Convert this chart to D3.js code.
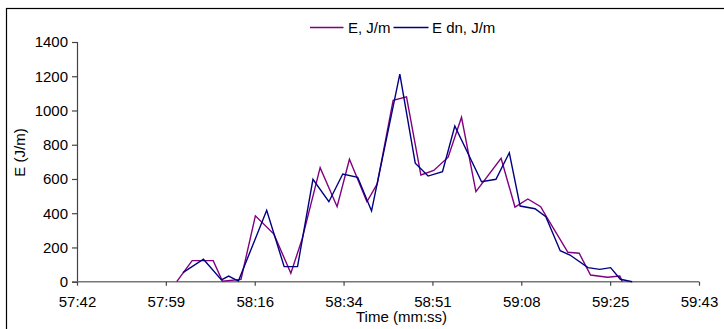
<!DOCTYPE html>
<html><head><meta charset="utf-8">
<script src="https://cdn.jsdelivr.net/npm/d3@7"></script>
<style>
html,body{margin:0;padding:0;background:#fff;}
svg{display:block;font-family:"Liberation Sans",Arial,sans-serif;}
</style></head>
<body>
<svg id="c" width="724" height="329"></svg>
<script>
// ---- data ----
const seriesNames = ["E, J/m", "E dn, J/m"];
const timesE = ["58:01.4","58:04.4","58:08.5","58:10.3","58:13.9","58:16.7","58:20.3","58:23.6","58:25.8","58:29.3","58:32.6","58:35.0","58:38.4","58:40.4","58:43.5","58:46.1","58:48.9","58:51.4","58:54.2","58:56.8","58:59.6","59:04.5","59:07.2","59:09.7","59:12.2","59:13.4","59:17.5","59:19.7","59:21.9","59:25.2","59:27.6","59:28.1"];
const valuesE = [0,123,123,3,13,385,278,49,250,666,438,715,467,571,1060,1080,623,650,727,960,526,721,436,483,438,376,172,166,39,26,33,0];
const timesEdn = ["58:02.6","58:06.6","58:10.1","58:11.5","58:13.4","58:18.9","58:22.3","58:24.9","58:27.9","58:31.0","58:33.7","58:36.6","58:39.3","58:44.8","58:47.8","58:50.3","58:53.1","58:55.5","59:00.7","59:03.5","59:06.1","59:08.2","59:11.1","59:13.2","59:16.0","59:17.9","59:21.4","59:23.7","59:25.8","59:27.7","59:30.0"];
const valuesEdn = [53,131,10,33,4,417,88,88,598,467,629,610,413,1213,692,617,642,909,584,598,753,442,426,380,181,156,82,72,82,14,0];
const xTickLabels = ["57:42","57:59","58:16","58:34","58:51","59:08","59:25","59:43"];
const yTicks = [0,200,400,600,800,1000,1200,1400];

// ---- helpers ----
const toSec = s => { const [m, r] = s.split(":"); return (+m - 57) * 60 + (+r); };
const xMin = toSec("57:42"), xMax = toSec("59:43");

const svg = d3.select("#c");
const x = d3.scaleLinear().domain([xMin, xMax]).range([77, 699]);
const y = d3.scaleLinear().domain([0, 1400]).range([281.7, 42]);

// outer border (cut off at right/bottom like the reference)
svg.append("rect").attr("x", 6.5).attr("y", 8.5).attr("width", 740).attr("height", 340)
  .attr("fill", "none").attr("stroke", "#000").attr("stroke-width", 1.2);

// y axis
const yAxis = d3.axisLeft(y).tickValues(yTicks).tickSize(5).tickPadding(4).tickFormat(d3.format("d"));
const gy = svg.append("g").attr("transform", "translate(77,0)").call(yAxis);
gy.select(".domain").attr("stroke", "#444").attr("stroke-width", 1.2);
gy.selectAll(".tick line").attr("stroke", "#444").attr("stroke-width", 1.2);
gy.selectAll(".tick text").attr("font-size", 15).attr("fill", "#000")
  .attr("font-family", "Liberation Sans, Arial, sans-serif");

// x axis
const xTickVals = xTickLabels.map((d, i) => xMin + i * (xMax - xMin) / (xTickLabels.length - 1));
const xAxis = d3.axisBottom(x).tickValues(xTickVals).tickSize(4).tickPadding(11)
  .tickFormat((d, i) => xTickLabels[i]);
const gx = svg.append("g").attr("transform", "translate(0,281.7)").call(xAxis);
gx.select(".domain").attr("stroke", "#777").attr("stroke-width", 1.6).attr("d", "M77,0H699");
gx.selectAll(".tick line").attr("stroke", "#444").attr("stroke-width", 1.2);
gx.selectAll(".tick text").attr("font-size", 15).attr("fill", "#000")
  .attr("font-family", "Liberation Sans, Arial, sans-serif");

// axis titles
svg.append("text").attr("x", 401.5).attr("y", 322).attr("text-anchor", "middle")
  .attr("font-size", 15).text("Time (mm:ss)");
svg.append("text").attr("transform", "translate(25,152.5) rotate(-90)").attr("text-anchor", "middle")
  .attr("font-size", 15).text("E (J/m)");

// lines
const colors = ["#800080", "#000080"];
const line = d3.line().x(d => x(d[0])).y(d => y(d[1]));
const dataE = timesE.map((t, i) => [toSec(t), valuesE[i]]);
const dataEdn = timesEdn.map((t, i) => [toSec(t), valuesEdn[i]]);
svg.append("path").datum(dataE).attr("d", line).attr("fill", "none")
  .attr("stroke", colors[0]).attr("stroke-width", 1.4).attr("stroke-linejoin", "miter");
svg.append("path").datum(dataEdn).attr("d", line).attr("fill", "none")
  .attr("stroke", colors[1]).attr("stroke-width", 1.4).attr("stroke-linejoin", "miter");

// legend
const legend = [
  {name: seriesNames[0], color: colors[0], x1: 310, x2: 343.5, tx: 348},
  {name: seriesNames[1], color: colors[1], x1: 393.5, x2: 428.5, tx: 432}
];
legend.forEach(l => {
  svg.append("line").attr("x1", l.x1).attr("x2", l.x2).attr("y1", 27.5).attr("y2", 27.5)
    .attr("stroke", l.color).attr("stroke-width", 1.4);
  svg.append("text").attr("x", l.tx).attr("y", 32.5).attr("font-size", 15).text(l.name);
});
</script>
</body></html>
